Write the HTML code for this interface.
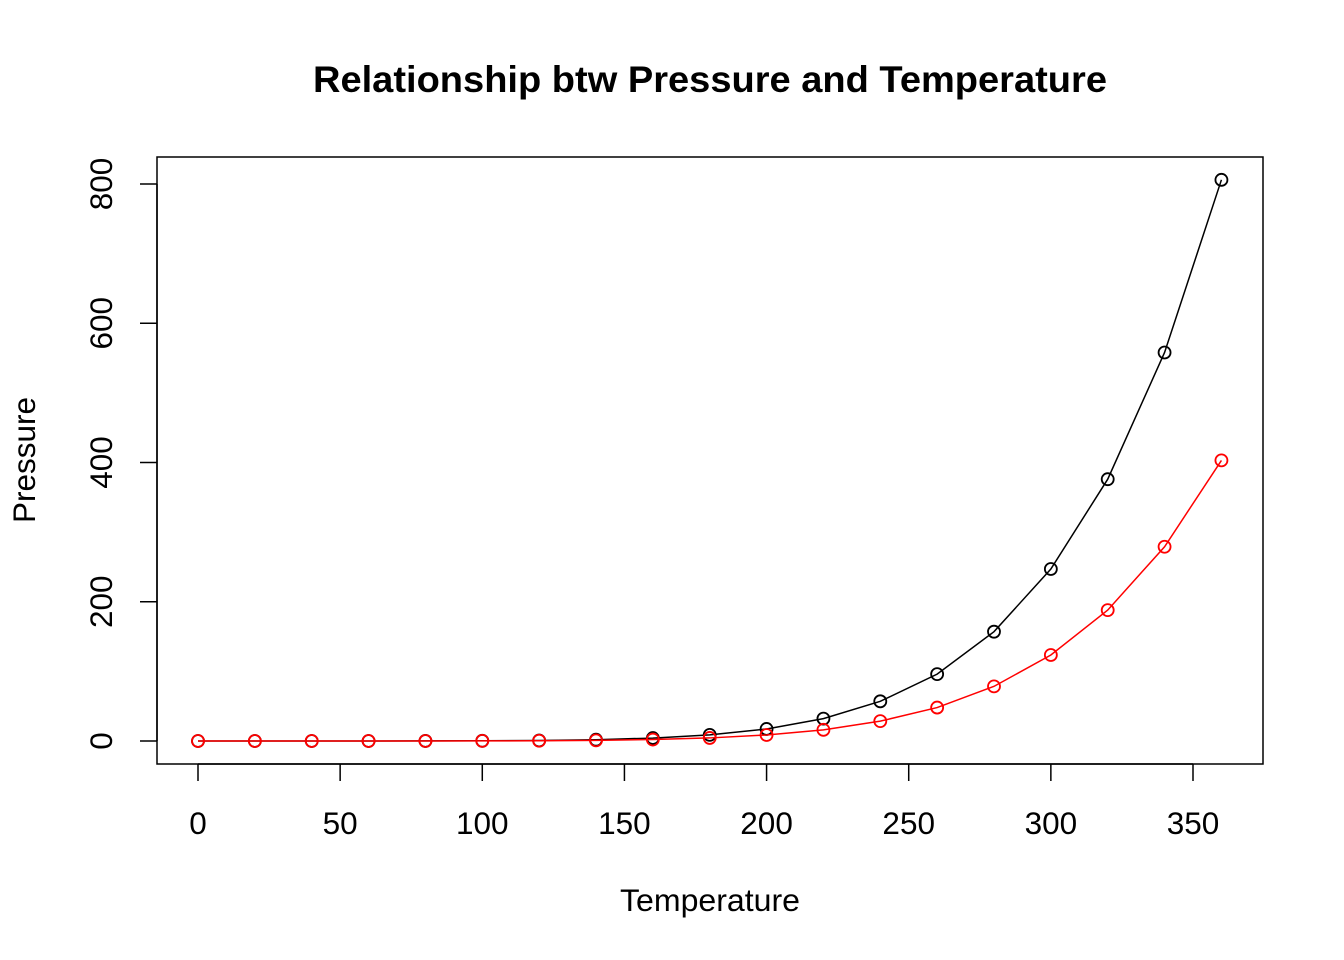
<!DOCTYPE html>
<html><head><meta charset="utf-8"><style>
html,body{margin:0;padding:0;background:#fff}
svg{display:block;font-family:"Liberation Sans",Arial,sans-serif}
</style></head><body>
<svg id="chart" width="1344" height="960">
<text x="710" y="92" text-anchor="middle" font-size="37" font-weight="bold" textLength="794" lengthAdjust="spacingAndGlyphs">Relationship btw Pressure and Temperature</text>
<rect x="157" y="157" width="1106" height="607" fill="none" stroke="#000" stroke-width="1.5"/>
<text x="710" y="911" text-anchor="middle" font-size="31.5" textLength="180" lengthAdjust="spacingAndGlyphs">Temperature</text>
<text transform="translate(35,460) rotate(-90)" text-anchor="middle" font-size="31.5" textLength="126" lengthAdjust="spacingAndGlyphs">Pressure</text>
<g id="axes"></g>
<g id="series"></g>
</svg>
<script>
const temperature=[0,20,40,60,80,100,120,140,160,180,200,220,240,260,280,300,320,340,360];
const pressure=[0.0002,0.0012,0.006,0.03,0.09,0.27,0.75,1.85,4.2,8.8,17.3,32.1,57,96,157,247,376,558,806];
const pressureHalf=[0.0001,0.0006,0.003,0.015,0.045,0.135,0.375,0.925,2.1,4.4,8.65,16.05,28.5,48,78.5,123.5,188,279,403];
const xTicks=[0,50,100,150,200,250,300,350];
const yTicks=[0,200,400,600,800];
const NS="http://www.w3.org/2000/svg";
const xs=v=>198+v*(995/350);
const ys=v=>741-v*(557/800);
const axes=document.getElementById('axes'),ser=document.getElementById('series');
function mk(t,a,p){const e=document.createElementNS(NS,t);for(const k in a)e.setAttribute(k,a[k]);p.appendChild(e);return e;}
const xl=mk('line',{x1:xs(0),x2:xs(350),y1:764,y2:764,stroke:'#000','stroke-width':1.5},axes);


xTicks.forEach(v=>{
 const l=mk('line',{x1:xs(v),x2:xs(v),y1:764,y2:781,stroke:'#000','stroke-width':1.5},axes);
 
 
 const t=mk('text',{x:xs(v),y:834,'text-anchor':'middle','font-size':31.5},axes);t.textContent=v;
 
 
});
const yl=mk('line',{x1:157,x2:157,y1:ys(0),y2:ys(800),stroke:'#000','stroke-width':1.5},axes);


yTicks.forEach(v=>{
 const l=mk('line',{x1:140,x2:157,y1:ys(v),y2:ys(v),stroke:'#000','stroke-width':1.5},axes);
 
 
 const t=mk('text',{transform:`translate(112,${ys(v)}) rotate(-90)`,'text-anchor':'middle','font-size':31.5},axes);t.textContent=v;
 
 
});
function series(vals,color,name){
 const pl=mk('polyline',{points:temperature.map((x,i)=>xs(x)+','+ys(vals[i])).join(' '),fill:'none',stroke:color,'stroke-width':1.5},ser);
 
 
 temperature.forEach((x,i)=>{
  const c=mk('circle',{cx:xs(x),cy:ys(vals[i]),r:6,fill:'none',stroke:color,'stroke-width':1.8},ser);
  
  
 });
}
series(pressure,'#000','pressure');
series(pressureHalf,'#ff0000','half-pressure');
</script>
</body></html>
